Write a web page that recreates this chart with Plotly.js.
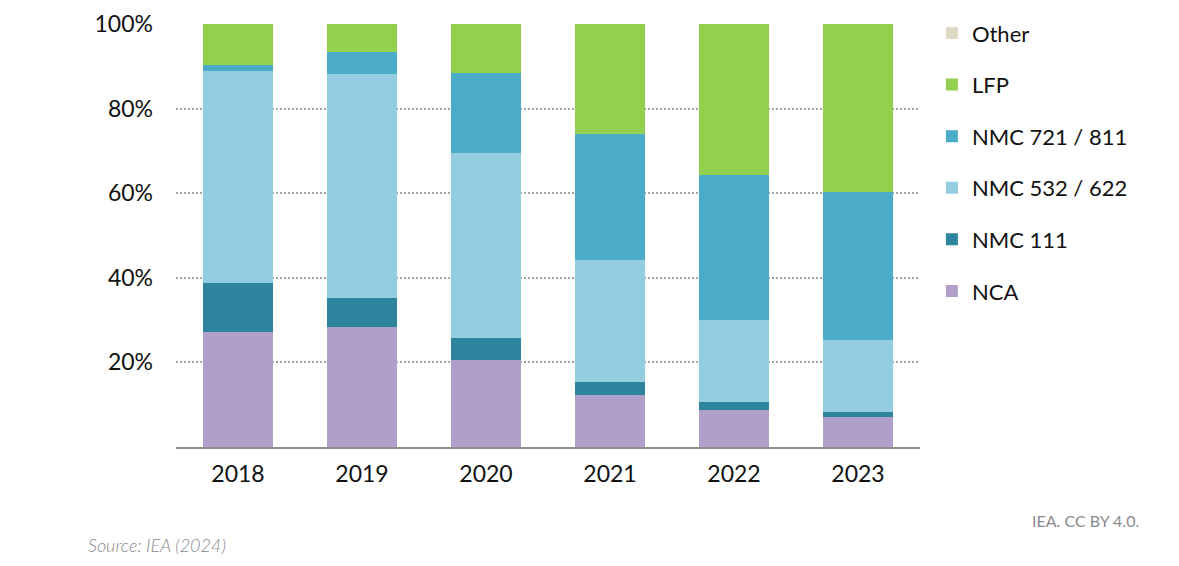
<!DOCTYPE html>
<html>
<head>
<meta charset="utf-8">
<script src="https://cdn.plot.ly/plotly-3.0.1.min.js"></script>
<style>html,body{margin:0;padding:0;background:#fff;}#chart{width:1179px;height:566px;}</style>
</head>
<body>
<div id="chart"></div>
<script>
const years = ['2018', '2019', '2020', '2021', '2022', '2023'];
const nca = [27.2, 28.4, 20.6, 12.3, 8.7, 7.2];
const nmc111 = [11.6, 6.8, 5.2, 3.1, 2.0, 1.0];
const nmc532 = [50.1, 53.0, 43.7, 28.8, 19.3, 17.1];
const nmc721 = [1.4, 5.2, 19.0, 29.8, 34.3, 35.0];
const lfp = [9.7, 6.6, 11.5, 26.0, 35.7, 39.7];
const other = [0, 0, 0, 0, 0, 0];
const yTicks = [20, 40, 60, 80, 100];
const yTickLabels = ['20%', '40%', '60%', '80%', '100%'];

const series = [
  {name: 'NCA', y: nca, color: '#b09fc9'},
  {name: 'NMC 111', y: nmc111, color: '#2e849d'},
  {name: 'NMC 532 / 622', y: nmc532, color: '#93cddf'},
  {name: 'NMC 721 / 811', y: nmc721, color: '#4aacc6'},
  {name: 'LFP', y: lfp, color: '#92d050'},
  {name: 'Other', y: other, color: '#ddd9c3'}
];

const traces = series.map((s, i) => ({
  type: 'bar', x: years, y: s.y, name: s.name, legendgroup: s.name,
  legendrank: 100 - i, showlegend: true,
  marker: {color: s.color, line: {width: 0}}, hoverinfo: 'x+y+name'
}));

const font = 'Lato, "Open Sans", sans-serif';
const plotW = 1179 - 176 - 259, plotH = 566 - 24 - 119;
const layout = {
  width: 1179, height: 566,
  margin: {l: 176, r: 259, t: 24, b: 119},
  barmode: 'stack', bargap: 0.43,
  paper_bgcolor: '#fff', plot_bgcolor: '#fff',
  font: {family: font, color: '#111', size: 20},
  showlegend: true,
  legend: {x: 1.016, y: 1.028, xanchor: 'left', yanchor: 'top',
    traceorder: 'grouped', tracegroupgap: 20, maxheight: 450,
    font: {family: font, size: 22, color: '#111'}, itemwidth: 30},
  xaxis: {type: 'category', showgrid: false, showline: true, linecolor: '#8c8c8c', linewidth: 1.5,
    ticks: '', ticklabelstandoff: 6, tickfont: {family: font, size: 23, color: '#111'}, fixedrange: true},
  yaxis: {range: [0, 100], tickvals: yTicks, ticktext: yTickLabels, showgrid: true,
    gridcolor: '#a3a3a3', gridwidth: 2, griddash: '2px,2px', zeroline: false, showline: false,
    ticks: '', ticklabelstandoff: 22, tickfont: {family: font, size: 23, color: '#111'}, fixedrange: true},
  annotations: [
    {text: 'IEA. CC BY 4.0.', xref: 'paper', yref: 'paper',
     x: (1141 - 176) / plotW, y: (447 - 520) / plotH, xanchor: 'right', yanchor: 'middle', showarrow: false,
     font: {family: font, size: 16, color: '#8a8a8a'}},
    {text: '<i>Source: IEA (2024)</i>', xref: 'paper', yref: 'paper',
     x: (86 - 176) / plotW, y: (447 - 545) / plotH, xanchor: 'left', yanchor: 'middle', showarrow: false,
     font: {family: font, size: 18, color: '#8a8a8a', weight: 300}}
  ]
};

Plotly.newPlot('chart', traces, layout, {displayModeBar: false, staticPlot: true});
</script>
</body>
</html>
